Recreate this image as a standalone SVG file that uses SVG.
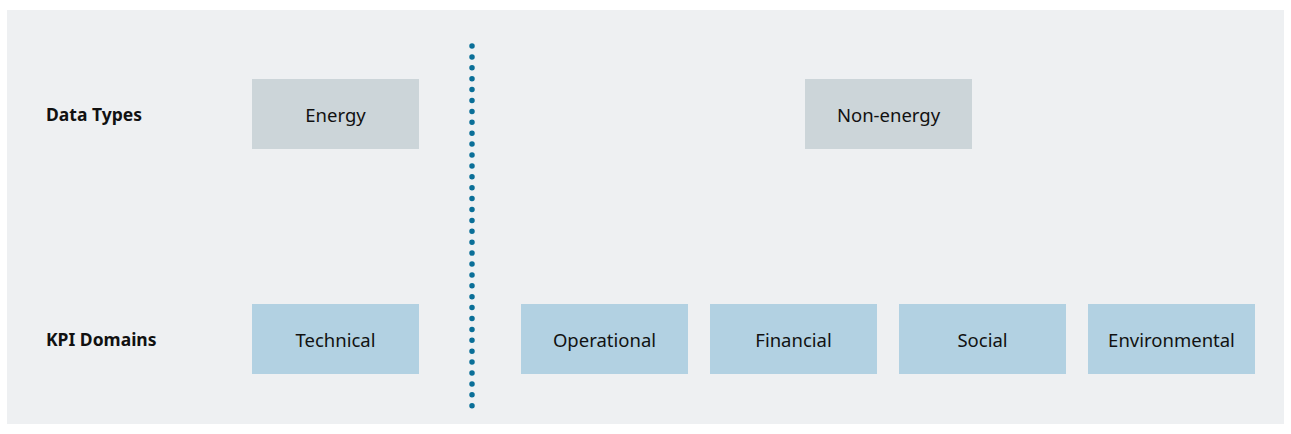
<svg xmlns="http://www.w3.org/2000/svg" width="1291" height="434" viewBox="0 0 1291 434">
<style>
.lbl{font-family:"Noto Sans","Open Sans",sans-serif;font-size:17.5px;font-weight:bold;fill:#111}
.t{font-family:"Noto Sans","Open Sans",sans-serif;font-size:18.5px;fill:#111;text-anchor:middle;dominant-baseline:central}
.dt{fill:#ccd5d9}
.kpi{fill:#b2d1e2}
</style>
<rect width="1291" height="434" fill="#fff"/>
<rect x="7" y="10" width="1277" height="414" fill="#eef0f2"/>
<text class="lbl" x="46" y="121">Data Types</text>
<text class="lbl" x="46" y="346">KPI Domains</text>
<g id="connectors">
<line x1="472" y1="46" x2="472" y2="408" stroke="#0a6f98" stroke-width="5.5" stroke-linecap="round" stroke-dasharray="0 10.9"/>
</g>
<g id="energy"><rect class="dt" x="252" y="79" width="167" height="70"/><text class="t" x="335.5" y="114">Energy</text></g>
<g id="non-energy"><rect class="dt" x="805" y="79" width="167" height="70"/><text class="t" x="888.5" y="114">Non-energy</text></g>
<g id="technical"><rect class="kpi" x="252" y="304" width="167" height="70"/><text class="t" x="335.5" y="339">Technical</text></g>
<g id="operational"><rect class="kpi" x="521" y="304" width="167" height="70"/><text class="t" x="604.5" y="339">Operational</text></g>
<g id="financial"><rect class="kpi" x="710" y="304" width="167" height="70"/><text class="t" x="793.5" y="339">Financial</text></g>
<g id="social"><rect class="kpi" x="899" y="304" width="167" height="70"/><text class="t" x="982.5" y="339">Social</text></g>
<g id="environmental"><rect class="kpi" x="1088" y="304" width="167" height="70"/><text class="t" x="1171.5" y="339">Environmental</text></g>
</svg>
